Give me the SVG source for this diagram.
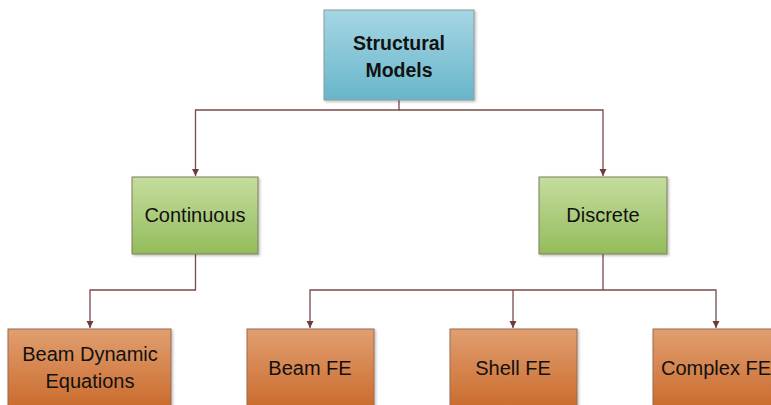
<svg xmlns="http://www.w3.org/2000/svg" width="771" height="405" viewBox="0 0 771 405">
<defs>
<linearGradient id="gb" x1="0" y1="0" x2="0" y2="1"><stop offset="0" stop-color="#a6d6e3"/><stop offset="1" stop-color="#68b6cb"/></linearGradient>
<linearGradient id="gg" x1="0" y1="0" x2="0" y2="1"><stop offset="0" stop-color="#c5dd9f"/><stop offset="1" stop-color="#93bc5b"/></linearGradient>
<linearGradient id="go" x1="0" y1="0" x2="0" y2="1"><stop offset="0" stop-color="#e19f71"/><stop offset="1" stop-color="#c9692a"/></linearGradient>
<marker id="ar" markerWidth="8" markerHeight="8" refX="7" refY="4" orient="auto" markerUnits="userSpaceOnUse"><path d="M0,0.5 L7,4 L0,7.5 Z" fill="#6e3b3b"/></marker>
<filter id="sh" x="-10%" y="-10%" width="130%" height="130%"><feDropShadow dx="1.5" dy="1.5" stdDeviation="1.2" flood-color="#000" flood-opacity="0.25"/></filter>
</defs>
<style>
.box{stroke-width:1;filter:url(#sh)}
.b{fill:url(#gb);stroke:#8a9a9e}
.g{fill:url(#gg);stroke:#7f7f5a}
.o{fill:url(#go);stroke:#9a6a55}
text{font-family:"Liberation Sans",Arial,sans-serif;font-size:20px;fill:#111;text-anchor:middle}
.bold{font-weight:bold;font-size:19.5px}
.c{fill:none;stroke:#7a4a4a;stroke-width:1.3}
</style>
<rect width="771" height="405" fill="#fff"/>
<g id="connectors">
<path class="c" d="M399,100 V110 H195.5 V176" marker-end="url(#ar)"/>
<path class="c" d="M399,110 H603 V176" marker-end="url(#ar)"/>
<path class="c" d="M195.5,254 V290 H90 V328" marker-end="url(#ar)"/>
<path class="c" d="M603,254 V290 H310 V328" marker-end="url(#ar)"/>
<path class="c" d="M513,290 V328" marker-end="url(#ar)"/>
<path class="c" d="M603,290 H716 V328" marker-end="url(#ar)"/>
</g>
<g id="structural">
<rect class="box b" x="324" y="10" width="150" height="90"/>
<text class="bold" x="399" y="50">Structural</text>
<text class="bold" x="399" y="77">Models</text>
</g>
<g id="continuous">
<rect class="box g" x="132" y="177" width="126" height="77"/>
<text x="195" y="222">Continuous</text>
</g>
<g id="discrete">
<rect class="box g" x="539" y="177" width="128" height="77"/>
<text x="603" y="222">Discrete</text>
</g>
<g id="beamdyn">
<rect class="box o" x="8" y="329" width="163" height="82"/>
<text x="90" y="361">Beam Dynamic</text>
<text x="90" y="388">Equations</text>
</g>
<g id="beamfe">
<rect class="box o" x="247" y="329" width="127" height="82"/>
<text x="310" y="375">Beam FE</text>
</g>
<g id="shellfe">
<rect class="box o" x="450" y="329" width="127" height="82"/>
<text x="513" y="375">Shell FE</text>
</g>
<g id="complexfe">
<rect class="box o" x="653" y="329" width="127" height="82"/>
<text x="716" y="375">Complex FE</text>
</g>
</svg>
